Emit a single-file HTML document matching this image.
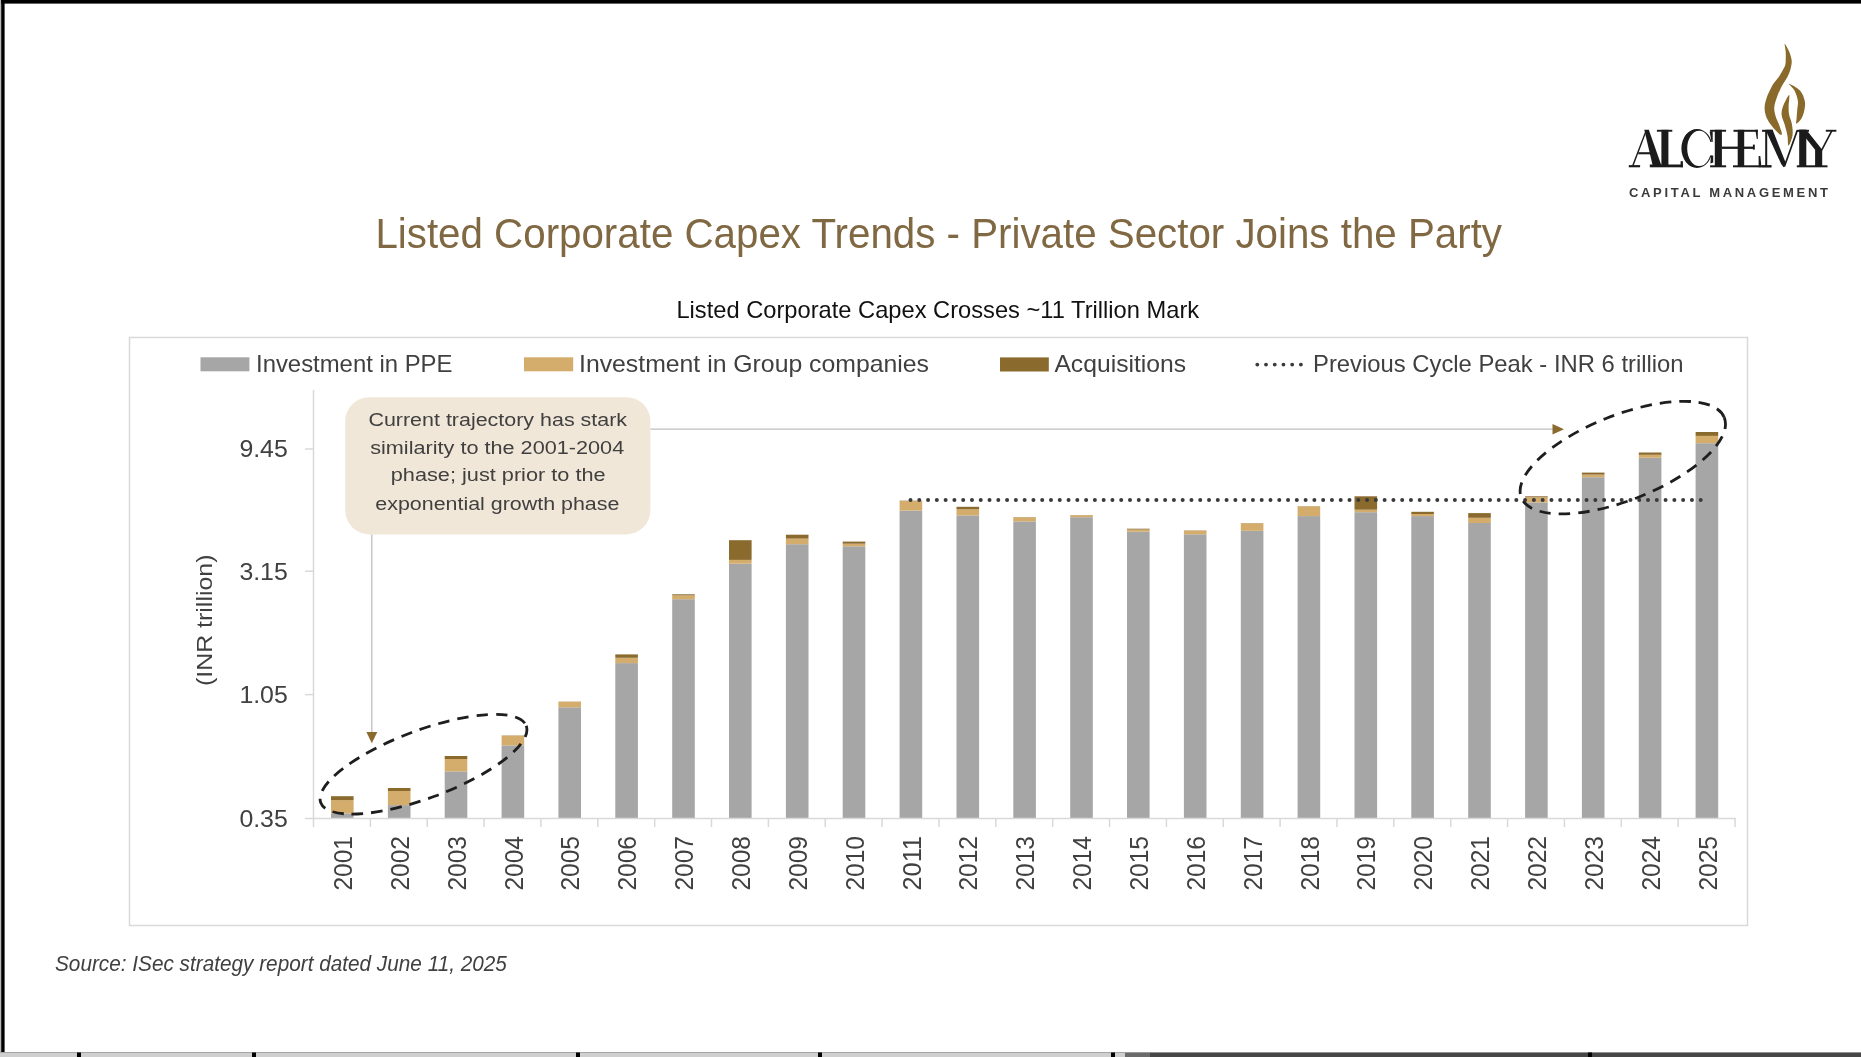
<!DOCTYPE html>
<html><head><meta charset="utf-8"><style>
html,body{margin:0;padding:0;background:#fff;overflow:hidden}
svg{display:block;font-family:"Liberation Sans",sans-serif;will-change:transform}
</style></head><body>
<svg width="1861" height="1057" viewBox="0 0 1861 1057">
<rect x="0" y="0" width="1861" height="1057" fill="#fff"/>
<rect x="129.5" y="337.5" width="1618" height="588" fill="none" stroke="#d9d9d9" stroke-width="1.5"/>
<rect x="331.0" y="813.4" width="22.6" height="4.6" fill="#a6a6a6"/>
<rect x="331.0" y="800.2" width="22.6" height="13.2" fill="#d4ad6c"/>
<rect x="331.0" y="796.2" width="22.6" height="4.0" fill="#8b6a2e"/>
<rect x="387.9" y="805.1" width="22.6" height="12.9" fill="#a6a6a6"/>
<rect x="387.9" y="791.0" width="22.6" height="14.1" fill="#d4ad6c"/>
<rect x="387.9" y="788.0" width="22.6" height="3.0" fill="#8b6a2e"/>
<rect x="444.7" y="771.4" width="22.6" height="46.6" fill="#a6a6a6"/>
<rect x="444.7" y="759.0" width="22.6" height="12.4" fill="#d4ad6c"/>
<rect x="444.7" y="756.0" width="22.6" height="3.0" fill="#8b6a2e"/>
<rect x="501.6" y="745.4" width="22.6" height="72.6" fill="#a6a6a6"/>
<rect x="501.6" y="735.6" width="22.6" height="9.8" fill="#d4ad6c"/>
<rect x="501.6" y="735.4" width="22.6" height="0.2" fill="#8b6a2e"/>
<rect x="558.4" y="707.3" width="22.6" height="110.7" fill="#a6a6a6"/>
<rect x="558.4" y="701.8" width="22.6" height="5.5" fill="#d4ad6c"/>
<rect x="558.4" y="701.6" width="22.6" height="0.2" fill="#8b6a2e"/>
<rect x="615.3" y="663.1" width="22.6" height="154.9" fill="#a6a6a6"/>
<rect x="615.3" y="657.8" width="22.6" height="5.3" fill="#d4ad6c"/>
<rect x="615.3" y="654.4" width="22.6" height="3.4" fill="#8b6a2e"/>
<rect x="672.2" y="599.2" width="22.6" height="218.8" fill="#a6a6a6"/>
<rect x="672.2" y="595.4" width="22.6" height="3.8" fill="#d4ad6c"/>
<rect x="672.2" y="594.3" width="22.6" height="1.1" fill="#8b6a2e"/>
<rect x="729.0" y="563.7" width="22.6" height="254.3" fill="#a6a6a6"/>
<rect x="729.0" y="559.9" width="22.6" height="3.8" fill="#d4ad6c"/>
<rect x="729.0" y="540.2" width="22.6" height="19.7" fill="#8b6a2e"/>
<rect x="785.9" y="544.2" width="22.6" height="273.8" fill="#a6a6a6"/>
<rect x="785.9" y="538.6" width="22.6" height="5.6" fill="#d4ad6c"/>
<rect x="785.9" y="534.7" width="22.6" height="3.9" fill="#8b6a2e"/>
<rect x="842.7" y="546.3" width="22.6" height="271.7" fill="#a6a6a6"/>
<rect x="842.7" y="543.7" width="22.6" height="2.6" fill="#d4ad6c"/>
<rect x="842.7" y="541.6" width="22.6" height="2.1" fill="#8b6a2e"/>
<rect x="899.6" y="510.6" width="22.6" height="307.4" fill="#a6a6a6"/>
<rect x="899.6" y="501.0" width="22.6" height="9.6" fill="#d4ad6c"/>
<rect x="899.6" y="500.7" width="22.6" height="0.3" fill="#8b6a2e"/>
<rect x="956.5" y="515.4" width="22.6" height="302.6" fill="#a6a6a6"/>
<rect x="956.5" y="509.3" width="22.6" height="6.1" fill="#d4ad6c"/>
<rect x="956.5" y="506.8" width="22.6" height="2.5" fill="#8b6a2e"/>
<rect x="1013.3" y="521.4" width="22.6" height="296.6" fill="#a6a6a6"/>
<rect x="1013.3" y="517.3" width="22.6" height="4.1" fill="#d4ad6c"/>
<rect x="1013.3" y="517.1" width="22.6" height="0.2" fill="#8b6a2e"/>
<rect x="1070.2" y="517.2" width="22.6" height="300.8" fill="#a6a6a6"/>
<rect x="1070.2" y="515.3" width="22.6" height="1.9" fill="#d4ad6c"/>
<rect x="1070.2" y="515.1" width="22.6" height="0.2" fill="#8b6a2e"/>
<rect x="1127.0" y="531.7" width="22.6" height="286.3" fill="#a6a6a6"/>
<rect x="1127.0" y="529.5" width="22.6" height="2.2" fill="#d4ad6c"/>
<rect x="1127.0" y="528.7" width="22.6" height="0.8" fill="#8b6a2e"/>
<rect x="1183.9" y="534.3" width="22.6" height="283.7" fill="#a6a6a6"/>
<rect x="1183.9" y="530.6" width="22.6" height="3.7" fill="#d4ad6c"/>
<rect x="1183.9" y="530.4" width="22.6" height="0.2" fill="#8b6a2e"/>
<rect x="1240.8" y="530.8" width="22.6" height="287.2" fill="#a6a6a6"/>
<rect x="1240.8" y="523.3" width="22.6" height="7.5" fill="#d4ad6c"/>
<rect x="1240.8" y="523.1" width="22.6" height="0.2" fill="#8b6a2e"/>
<rect x="1297.6" y="516.1" width="22.6" height="301.9" fill="#a6a6a6"/>
<rect x="1297.6" y="506.4" width="22.6" height="9.7" fill="#d4ad6c"/>
<rect x="1297.6" y="506.2" width="22.6" height="0.2" fill="#8b6a2e"/>
<rect x="1354.5" y="512.2" width="22.6" height="305.8" fill="#a6a6a6"/>
<rect x="1354.5" y="509.7" width="22.6" height="2.5" fill="#d4ad6c"/>
<rect x="1354.5" y="496.3" width="22.6" height="13.4" fill="#8b6a2e"/>
<rect x="1411.3" y="516.1" width="22.6" height="301.9" fill="#a6a6a6"/>
<rect x="1411.3" y="514.0" width="22.6" height="2.1" fill="#d4ad6c"/>
<rect x="1411.3" y="511.8" width="22.6" height="2.2" fill="#8b6a2e"/>
<rect x="1468.2" y="523.0" width="22.6" height="295.0" fill="#a6a6a6"/>
<rect x="1468.2" y="517.8" width="22.6" height="5.2" fill="#d4ad6c"/>
<rect x="1468.2" y="513.1" width="22.6" height="4.7" fill="#8b6a2e"/>
<rect x="1525.1" y="502.4" width="22.6" height="315.6" fill="#a6a6a6"/>
<rect x="1525.1" y="497.3" width="22.6" height="5.1" fill="#d4ad6c"/>
<rect x="1525.1" y="496.3" width="22.6" height="1.0" fill="#8b6a2e"/>
<rect x="1581.9" y="477.2" width="22.6" height="340.8" fill="#a6a6a6"/>
<rect x="1581.9" y="474.6" width="22.6" height="2.6" fill="#d4ad6c"/>
<rect x="1581.9" y="472.6" width="22.6" height="2.0" fill="#8b6a2e"/>
<rect x="1638.8" y="457.8" width="22.6" height="360.2" fill="#a6a6a6"/>
<rect x="1638.8" y="454.8" width="22.6" height="3.0" fill="#d4ad6c"/>
<rect x="1638.8" y="452.5" width="22.6" height="2.3" fill="#8b6a2e"/>
<rect x="1695.6" y="443.2" width="22.6" height="374.8" fill="#a6a6a6"/>
<rect x="1695.6" y="435.9" width="22.6" height="7.3" fill="#d4ad6c"/>
<rect x="1695.6" y="432.0" width="22.6" height="3.9" fill="#8b6a2e"/>
<line x1="313.5" y1="390" x2="313.5" y2="818.5" stroke="#d9d9d9" stroke-width="1.5"/>
<line x1="305" y1="818.5" x2="1736" y2="818.5" stroke="#d9d9d9" stroke-width="1.5"/>
<line x1="313.5" y1="818" x2="313.5" y2="827" stroke="#d9d9d9" stroke-width="1.5"/>
<line x1="370.4" y1="818" x2="370.4" y2="827" stroke="#d9d9d9" stroke-width="1.5"/>
<line x1="427.2" y1="818" x2="427.2" y2="827" stroke="#d9d9d9" stroke-width="1.5"/>
<line x1="484.1" y1="818" x2="484.1" y2="827" stroke="#d9d9d9" stroke-width="1.5"/>
<line x1="540.9" y1="818" x2="540.9" y2="827" stroke="#d9d9d9" stroke-width="1.5"/>
<line x1="597.8" y1="818" x2="597.8" y2="827" stroke="#d9d9d9" stroke-width="1.5"/>
<line x1="654.7" y1="818" x2="654.7" y2="827" stroke="#d9d9d9" stroke-width="1.5"/>
<line x1="711.5" y1="818" x2="711.5" y2="827" stroke="#d9d9d9" stroke-width="1.5"/>
<line x1="768.4" y1="818" x2="768.4" y2="827" stroke="#d9d9d9" stroke-width="1.5"/>
<line x1="825.2" y1="818" x2="825.2" y2="827" stroke="#d9d9d9" stroke-width="1.5"/>
<line x1="882.1" y1="818" x2="882.1" y2="827" stroke="#d9d9d9" stroke-width="1.5"/>
<line x1="939.0" y1="818" x2="939.0" y2="827" stroke="#d9d9d9" stroke-width="1.5"/>
<line x1="995.8" y1="818" x2="995.8" y2="827" stroke="#d9d9d9" stroke-width="1.5"/>
<line x1="1052.7" y1="818" x2="1052.7" y2="827" stroke="#d9d9d9" stroke-width="1.5"/>
<line x1="1109.5" y1="818" x2="1109.5" y2="827" stroke="#d9d9d9" stroke-width="1.5"/>
<line x1="1166.4" y1="818" x2="1166.4" y2="827" stroke="#d9d9d9" stroke-width="1.5"/>
<line x1="1223.3" y1="818" x2="1223.3" y2="827" stroke="#d9d9d9" stroke-width="1.5"/>
<line x1="1280.1" y1="818" x2="1280.1" y2="827" stroke="#d9d9d9" stroke-width="1.5"/>
<line x1="1337.0" y1="818" x2="1337.0" y2="827" stroke="#d9d9d9" stroke-width="1.5"/>
<line x1="1393.8" y1="818" x2="1393.8" y2="827" stroke="#d9d9d9" stroke-width="1.5"/>
<line x1="1450.7" y1="818" x2="1450.7" y2="827" stroke="#d9d9d9" stroke-width="1.5"/>
<line x1="1507.6" y1="818" x2="1507.6" y2="827" stroke="#d9d9d9" stroke-width="1.5"/>
<line x1="1564.4" y1="818" x2="1564.4" y2="827" stroke="#d9d9d9" stroke-width="1.5"/>
<line x1="1621.3" y1="818" x2="1621.3" y2="827" stroke="#d9d9d9" stroke-width="1.5"/>
<line x1="1678.1" y1="818" x2="1678.1" y2="827" stroke="#d9d9d9" stroke-width="1.5"/>
<line x1="1735.0" y1="818" x2="1735.0" y2="827" stroke="#d9d9d9" stroke-width="1.5"/>
<line x1="305" y1="449.0" x2="313.5" y2="449.0" stroke="#d9d9d9" stroke-width="1.5"/>
<line x1="305" y1="571.2" x2="313.5" y2="571.2" stroke="#d9d9d9" stroke-width="1.5"/>
<line x1="305" y1="694.6" x2="313.5" y2="694.6" stroke="#d9d9d9" stroke-width="1.5"/>
<text x="239.4" y="457.1" font-size="23.8" fill="#404040" textLength="48.4" lengthAdjust="spacingAndGlyphs">9.45</text>
<text x="239.4" y="580.0" font-size="23.8" fill="#404040" textLength="48.4" lengthAdjust="spacingAndGlyphs">3.15</text>
<text x="239.4" y="703.3" font-size="23.8" fill="#404040" textLength="48.4" lengthAdjust="spacingAndGlyphs">1.05</text>
<text x="239.4" y="826.5" font-size="23.8" fill="#404040" textLength="48.4" lengthAdjust="spacingAndGlyphs">0.35</text>
<text transform="translate(211.5,686) rotate(-90)" x="0" y="0" font-size="22.5" fill="#404040" textLength="131.5" lengthAdjust="spacingAndGlyphs">(INR trillion)</text>
<text transform="translate(351.9,890.6) rotate(-90)" x="0" y="0" font-size="25.3" fill="#404040" textLength="54.6" lengthAdjust="spacingAndGlyphs">2001</text>
<text transform="translate(408.8,890.6) rotate(-90)" x="0" y="0" font-size="25.3" fill="#404040" textLength="54.6" lengthAdjust="spacingAndGlyphs">2002</text>
<text transform="translate(465.6,890.6) rotate(-90)" x="0" y="0" font-size="25.3" fill="#404040" textLength="54.6" lengthAdjust="spacingAndGlyphs">2003</text>
<text transform="translate(522.5,890.6) rotate(-90)" x="0" y="0" font-size="25.3" fill="#404040" textLength="54.6" lengthAdjust="spacingAndGlyphs">2004</text>
<text transform="translate(579.3,890.6) rotate(-90)" x="0" y="0" font-size="25.3" fill="#404040" textLength="54.6" lengthAdjust="spacingAndGlyphs">2005</text>
<text transform="translate(636.2,890.6) rotate(-90)" x="0" y="0" font-size="25.3" fill="#404040" textLength="54.6" lengthAdjust="spacingAndGlyphs">2006</text>
<text transform="translate(693.1,890.6) rotate(-90)" x="0" y="0" font-size="25.3" fill="#404040" textLength="54.6" lengthAdjust="spacingAndGlyphs">2007</text>
<text transform="translate(749.9,890.6) rotate(-90)" x="0" y="0" font-size="25.3" fill="#404040" textLength="54.6" lengthAdjust="spacingAndGlyphs">2008</text>
<text transform="translate(806.8,890.6) rotate(-90)" x="0" y="0" font-size="25.3" fill="#404040" textLength="54.6" lengthAdjust="spacingAndGlyphs">2009</text>
<text transform="translate(863.6,890.6) rotate(-90)" x="0" y="0" font-size="25.3" fill="#404040" textLength="54.6" lengthAdjust="spacingAndGlyphs">2010</text>
<text transform="translate(920.5,890.6) rotate(-90)" x="0" y="0" font-size="25.3" fill="#404040" textLength="54.6" lengthAdjust="spacingAndGlyphs">2011</text>
<text transform="translate(977.4,890.6) rotate(-90)" x="0" y="0" font-size="25.3" fill="#404040" textLength="54.6" lengthAdjust="spacingAndGlyphs">2012</text>
<text transform="translate(1034.2,890.6) rotate(-90)" x="0" y="0" font-size="25.3" fill="#404040" textLength="54.6" lengthAdjust="spacingAndGlyphs">2013</text>
<text transform="translate(1091.1,890.6) rotate(-90)" x="0" y="0" font-size="25.3" fill="#404040" textLength="54.6" lengthAdjust="spacingAndGlyphs">2014</text>
<text transform="translate(1147.9,890.6) rotate(-90)" x="0" y="0" font-size="25.3" fill="#404040" textLength="54.6" lengthAdjust="spacingAndGlyphs">2015</text>
<text transform="translate(1204.8,890.6) rotate(-90)" x="0" y="0" font-size="25.3" fill="#404040" textLength="54.6" lengthAdjust="spacingAndGlyphs">2016</text>
<text transform="translate(1261.7,890.6) rotate(-90)" x="0" y="0" font-size="25.3" fill="#404040" textLength="54.6" lengthAdjust="spacingAndGlyphs">2017</text>
<text transform="translate(1318.5,890.6) rotate(-90)" x="0" y="0" font-size="25.3" fill="#404040" textLength="54.6" lengthAdjust="spacingAndGlyphs">2018</text>
<text transform="translate(1375.4,890.6) rotate(-90)" x="0" y="0" font-size="25.3" fill="#404040" textLength="54.6" lengthAdjust="spacingAndGlyphs">2019</text>
<text transform="translate(1432.2,890.6) rotate(-90)" x="0" y="0" font-size="25.3" fill="#404040" textLength="54.6" lengthAdjust="spacingAndGlyphs">2020</text>
<text transform="translate(1489.1,890.6) rotate(-90)" x="0" y="0" font-size="25.3" fill="#404040" textLength="54.6" lengthAdjust="spacingAndGlyphs">2021</text>
<text transform="translate(1546.0,890.6) rotate(-90)" x="0" y="0" font-size="25.3" fill="#404040" textLength="54.6" lengthAdjust="spacingAndGlyphs">2022</text>
<text transform="translate(1602.8,890.6) rotate(-90)" x="0" y="0" font-size="25.3" fill="#404040" textLength="54.6" lengthAdjust="spacingAndGlyphs">2023</text>
<text transform="translate(1659.7,890.6) rotate(-90)" x="0" y="0" font-size="25.3" fill="#404040" textLength="54.6" lengthAdjust="spacingAndGlyphs">2024</text>
<text transform="translate(1716.5,890.6) rotate(-90)" x="0" y="0" font-size="25.3" fill="#404040" textLength="54.6" lengthAdjust="spacingAndGlyphs">2025</text>
<line x1="910.5" y1="499.9" x2="1702" y2="499.9" stroke="#3a3a3a" stroke-width="4" stroke-linecap="round" stroke-dasharray="0 8.78"/>
<rect x="345.2" y="397.2" width="305.2" height="137.2" rx="24" ry="24" fill="#f1e7d8"/>
<text x="368.4" y="425.8" font-size="18.7" fill="#404040" textLength="258.7" lengthAdjust="spacingAndGlyphs">Current trajectory has stark</text>
<text x="370.2" y="453.6" font-size="18.7" fill="#404040" textLength="254.0" lengthAdjust="spacingAndGlyphs">similarity to the 2001-2004</text>
<text x="390.8" y="481.1" font-size="18.7" fill="#404040" textLength="214.8" lengthAdjust="spacingAndGlyphs">phase; just prior to the</text>
<text x="375.3" y="509.5" font-size="18.7" fill="#404040" textLength="244.1" lengthAdjust="spacingAndGlyphs">exponential growth phase</text>
<line x1="650.4" y1="429.2" x2="1556" y2="429.2" stroke="#bfbfbf" stroke-width="1.3"/>
<polygon points="1552.5,424 1564,429.2 1552.5,434.6" fill="#8b6a2e"/>
<line x1="371.8" y1="534.4" x2="371.8" y2="735" stroke="#bfbfbf" stroke-width="1.3"/>
<polygon points="366.4,731.9 377.3,731.9 371.8,743.2" fill="#8b6a2e"/>
<ellipse cx="423.5" cy="764.25" rx="109.7" ry="33.9" transform="rotate(-20.5 423.5 764.25)" fill="none" stroke="#1e1e1e" stroke-width="2.8" stroke-dasharray="11.5 8"/>
<ellipse cx="1622.8" cy="457.6" rx="109.1" ry="42.6" transform="rotate(-21.5 1622.8 457.6)" fill="none" stroke="#1e1e1e" stroke-width="2.8" stroke-dasharray="11.5 8"/>
<rect x="200.5" y="357.3" width="48.9" height="14" fill="#a6a6a6"/>
<text x="256" y="372.4" font-size="24" fill="#404040" textLength="196.5" lengthAdjust="spacingAndGlyphs">Investment in PPE</text>
<rect x="524" y="357.3" width="49.2" height="14" fill="#d4ad6c"/>
<text x="579" y="372.4" font-size="24" fill="#404040" textLength="350" lengthAdjust="spacingAndGlyphs">Investment in Group companies</text>
<rect x="1000" y="357.4" width="48.8" height="14.1" fill="#8b6a2e"/>
<text x="1054.4" y="372.4" font-size="24" fill="#404040" textLength="131.7" lengthAdjust="spacingAndGlyphs">Acquisitions</text>
<line x1="1257.3" y1="364.6" x2="1302" y2="364.6" stroke="#3c3c3c" stroke-width="3.9" stroke-linecap="round" stroke-dasharray="0 8.72"/>
<text x="1313" y="372.4" font-size="24" fill="#404040" textLength="370.6" lengthAdjust="spacingAndGlyphs">Previous Cycle Peak - INR 6 trillion</text>
<text x="375.4" y="248.4" font-size="42.9" fill="#806843" textLength="1126.6" lengthAdjust="spacingAndGlyphs">Listed Corporate Capex Trends - Private Sector Joins the Party</text>
<text x="676.4" y="318.1" font-size="23.2" fill="#111" textLength="522.8" lengthAdjust="spacingAndGlyphs">Listed Corporate Capex Crosses ~11 Trillion Mark</text>
<text x="55" y="971" font-size="21.6" font-style="italic" fill="#404040" textLength="451.9" lengthAdjust="spacingAndGlyphs">Source: ISec strategy report dated June 11, 2025</text>
<path d="M1784.80,44.00 C1785.37,44.00 1787.97,48.75 1789.10,51.40 C1790.23,54.05 1791.23,57.55 1791.60,59.90 C1791.97,62.25 1791.58,63.62 1791.30,65.50 C1791.02,67.38 1790.55,69.30 1789.90,71.20 C1789.25,73.10 1788.38,75.00 1787.40,76.90 C1786.42,78.80 1785.10,80.72 1784.00,82.60 C1782.90,84.48 1781.95,85.83 1780.80,88.20 C1779.65,90.57 1778.18,93.67 1777.10,96.80 C1776.02,99.93 1774.58,103.88 1774.30,107.00 C1774.02,110.12 1774.65,112.65 1775.40,115.50 C1776.15,118.35 1777.75,121.25 1778.80,124.10 C1779.85,126.95 1781.30,130.82 1781.70,132.60 C1782.10,134.38 1781.87,134.80 1781.20,134.80 C1780.53,134.80 1779.52,134.38 1777.70,132.60 C1775.88,130.82 1772.28,126.95 1770.30,124.10 C1768.32,121.25 1766.75,118.35 1765.80,115.50 C1764.85,112.65 1764.42,110.08 1764.60,107.00 C1764.78,103.92 1765.85,100.13 1766.90,97.00 C1767.95,93.87 1769.67,90.60 1770.90,88.20 C1772.13,85.80 1772.98,84.48 1774.30,82.60 C1775.62,80.72 1777.48,78.80 1778.80,76.90 C1780.12,75.00 1781.15,73.10 1782.20,71.20 C1783.25,69.30 1784.52,67.38 1785.10,65.50 C1785.68,63.62 1785.60,62.25 1785.70,59.90 C1785.80,57.55 1785.85,54.05 1785.70,51.40 C1785.55,48.75 1784.23,44.00 1784.80,44.00 Z" fill="#8a6a2a"/>
<path d="M1789.10,95.10 C1790.07,95.10 1788.57,103.60 1788.60,107.00 C1788.63,110.40 1788.75,112.65 1789.30,115.50 C1789.85,118.35 1791.37,120.78 1791.90,124.10 C1792.43,127.42 1793.07,131.82 1792.50,135.40 C1791.93,138.98 1789.35,145.60 1788.50,145.60 C1787.65,145.60 1788.07,138.98 1787.40,135.40 C1786.73,131.82 1785.45,127.42 1784.50,124.10 C1783.55,120.78 1781.98,118.35 1781.70,115.50 C1781.42,112.65 1781.57,110.40 1782.80,107.00 C1784.03,103.60 1788.13,95.10 1789.10,95.10 Z" fill="#8a6a2a"/>
<path d="M1789.10,83.70 C1790.02,83.70 1797.38,87.62 1800.00,90.50 C1802.62,93.38 1804.07,97.77 1804.80,101.00 C1805.53,104.23 1804.95,107.00 1804.40,109.90 C1803.85,112.80 1802.83,116.13 1801.50,118.40 C1800.17,120.67 1797.22,123.50 1796.40,123.50 C1795.58,123.50 1796.47,120.67 1796.60,118.40 C1796.73,116.13 1796.98,112.80 1797.20,109.90 C1797.42,107.00 1798.35,104.23 1797.90,101.00 C1797.45,97.77 1795.97,93.38 1794.50,90.50 C1793.03,87.62 1788.18,83.70 1789.10,83.70 Z" fill="#8a6a2a"/>
<polygon points="1645.6,130.20000000000002 1647.0,130.20000000000002 1633.6,165.70000000000002 1632.0,165.70000000000002" fill="#1b1b1b"/>
<polygon points="1628.8,165.10000000000002 1640.1,165.10000000000002 1640.1,167.3 1628.8,167.3" fill="#1b1b1b"/>
<polygon points="1644.3,129.8 1648.8,129.8 1661.3,165.3 1652.6,165.3" fill="#1b1b1b"/>
<rect x="1638.3" y="152.2" width="12.7" height="2.1" fill="#1b1b1b"/>
<rect x="1649.8" y="164.5" width="33.1" height="2.8" fill="#1b1b1b"/>
<rect x="1661.4" y="129.8" width="7" height="36" fill="#1b1b1b"/>
<rect x="1656.9" y="129.8" width="15.4" height="1.9" fill="#1b1b1b"/>
<rect x="1680.6" y="161.2" width="2.3" height="6" fill="#1b1b1b"/>
<path d="M1697,128.9 A15.6,19.5 0 1,0 1697,167.9 A15.6,19.5 0 1,0 1697,128.9 Z M1699.2,130.7 A12.0,17.7 0 1,1 1699.2,166.1 A12.0,17.7 0 1,1 1699.2,130.7 Z" fill="#1b1b1b" fill-rule="evenodd"/>
<rect x="1709.3" y="142.0" width="5" height="13.4" fill="#fff"/>
<polygon points="1709.6,131.6 1712.7,131.2 1712.7,142 1711.6,142" fill="#1b1b1b"/>
<polygon points="1711,155.4 1713.2,155.4 1713.2,162.5 1710.4,163.6" fill="#1b1b1b"/>
<rect x="1714.8" y="129.8" width="7.1" height="37" fill="#1b1b1b"/>
<rect x="1710.1" y="129.8" width="16" height="1.9" fill="#1b1b1b"/>
<rect x="1710.1" y="165.3" width="16" height="2" fill="#1b1b1b"/>
<rect x="1721.9" y="146.6" width="32.3" height="2.3" fill="#1b1b1b"/>
<rect x="1737.7" y="129.8" width="6.5" height="37" fill="#1b1b1b"/>
<rect x="1733.5" y="129.8" width="24.3" height="2.0" fill="#1b1b1b"/>
<polygon points="1755.3,129.8 1757.8,129.8 1757.8,138.9 1756.8,138.9" fill="#1b1b1b"/>
<rect x="1752.9" y="144.6" width="1.9" height="5" fill="#1b1b1b"/>
<rect x="1733" y="165.3" width="38.4" height="2" fill="#1b1b1b"/>
<polygon points="1758.6,156 1760.3,156 1761.5,167.3 1758.6,167.3" fill="#1b1b1b"/>
<rect x="1765.2" y="130.3" width="2.0" height="36" fill="#1b1b1b"/>
<rect x="1762" y="165.3" width="9.4" height="2" fill="#1b1b1b"/>
<rect x="1762" y="129.8" width="10.6" height="2" fill="#1b1b1b"/>
<polygon points="1765.5,129.8 1772.6,129.8 1786,163.5 1783.6,167.3 1781.2,164" fill="#1b1b1b"/>
<polygon points="1783.4,166.8 1796.4,130.3 1798.2,130.3 1785.2,166.8" fill="#1b1b1b"/>
<rect x="1799.2" y="129.8" width="7.1" height="37" fill="#1b1b1b"/>
<rect x="1796.8" y="129.8" width="12.2" height="2" fill="#1b1b1b"/>
<polygon points="1799.2,129.8 1806.3,129.8 1822.2,149.8 1815.1,149.8" fill="#1b1b1b"/>
<rect x="1815.1" y="149" width="7.1" height="17" fill="#1b1b1b"/>
<rect x="1796.8" y="165.3" width="30.7" height="2" fill="#1b1b1b"/>
<polygon points="1820.6,150.5 1831.2,130.3 1833,130.3 1822.4,150.5" fill="#1b1b1b"/>
<rect x="1825.8" y="129.8" width="10.6" height="1.9" fill="#1b1b1b"/>
<text x="1628.9" y="197.4" font-size="13" font-weight="bold" fill="#3a3a3a" textLength="199.1" lengthAdjust="spacing">CAPITAL MANAGEMENT</text>
<rect x="0" y="0" width="1861" height="3.6" fill="#000"/>
<rect x="0" y="0" width="1.2" height="1052" fill="#b8b8b8"/>
<rect x="1.2" y="0" width="3.4" height="1052" fill="#000"/>
<rect x="0" y="1052" width="1861" height="5" fill="#cfcfcf"/>
<rect x="0" y="1052" width="1861" height="0.8" fill="#9a9a9a"/>
<rect x="1125" y="1052.8" width="25" height="4.2" fill="#6b6b6b"/>
<rect x="1150" y="1052.8" width="711" height="4.2" fill="#474747"/>
<rect x="77" y="1052.5" width="4" height="4.5" fill="#000"/>
<rect x="252" y="1052.5" width="4" height="4.5" fill="#000"/>
<rect x="576" y="1052.5" width="4" height="4.5" fill="#000"/>
<rect x="818" y="1052.5" width="4" height="4.5" fill="#000"/>
<rect x="1111" y="1052.5" width="4" height="4.5" fill="#000"/>
<rect x="1588" y="1052.5" width="4" height="4.5" fill="#000"/>
</svg>
</body></html>
